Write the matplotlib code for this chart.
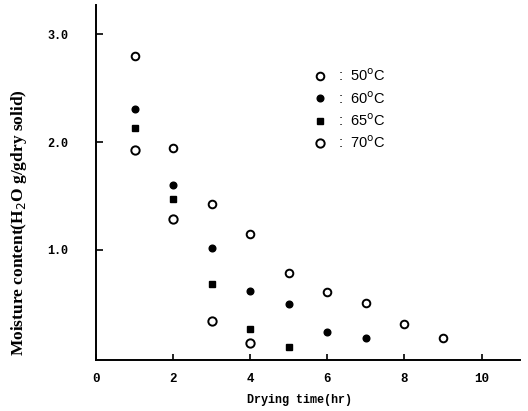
import matplotlib
matplotlib.use("Agg")
import matplotlib.pyplot as plt

# Data
t50 = [1, 2, 3, 4, 5, 6, 7, 8, 9]
m50 = [2.80, 1.94, 1.43, 1.15, 0.79, 0.61, 0.51, 0.31, 0.18]
t60 = [1, 2, 3, 4, 5, 6, 7]
m60 = [2.31, 1.60, 1.02, 0.62, 0.50, 0.24, 0.18]
t65 = [1, 2, 3, 4, 5]
m65 = [2.13, 1.47, 0.68, 0.27, 0.10]
t70 = [1, 2, 3, 4]
m70 = [1.93, 1.29, 0.34, 0.14]

series_labels = [":  50$^{\\rm o}$C", ":  60$^{\\rm o}$C", ":  65$^{\\rm o}$C", ":  70$^{\\rm o}$C"]
xticks = [0, 2, 4, 6, 8, 10]
yticks = [1.0, 2.0, 3.0]
ytick_labels = ["1.0", "2.0", "3.0"]

mono = "Liberation Mono"

fig = plt.figure(figsize=(5.28, 4.11), dpi=100)
ax = fig.add_axes([0.182, 0.124, 0.803, 0.864])

h1, = ax.plot(t50, m50, linestyle="none", marker="o", ms=5.5, mfc="white", mec="black", mew=1.4)
h2, = ax.plot(t60, m60, linestyle="none", marker="o", ms=4.8, mfc="black", mec="black")
h3, = ax.plot(t65, m65, linestyle="none", marker="s", ms=4.5, mfc="black", mec="black")
h4, = ax.plot(t70, m70, linestyle="none", marker="o", ms=6, mfc="white", mec="black", mew=1.4)

ax.set_xlim(0, 11.0)
ax.set_ylim(-0.02, 3.27)

for s in ["top", "right"]:
    ax.spines[s].set_visible(False)
for s in ["left", "bottom"]:
    ax.spines[s].set_linewidth(1.4)

ax.set_xticks(xticks)
ax.set_xticklabels([str(v) for v in xticks], fontfamily=mono, fontweight="bold", fontsize=9)
ax.set_yticks(yticks)
ax.set_yticklabels(ytick_labels, fontfamily=mono, fontweight="bold", fontsize=8.5)
ax.tick_params(axis="x", direction="in", length=4, width=1.2, pad=9)
ax.tick_params(axis="y", direction="in", length=5, width=1.2, pad=20)

ax.set_xlabel("Drying time(hr)", fontfamily=mono, fontweight="bold", fontsize=8.5)
ax.xaxis.set_label_coords(0.48, -0.095)
ax.set_ylabel("Moisture content(H$_2$O g/gdry solid)", fontfamily="Liberation Serif",
              fontweight="bold", fontsize=12.5)
ax.yaxis.set_label_coords(-0.158, 0.386)

leg = ax.legend([h1, h2, h3, h4], series_labels, frameon=False, loc="upper left",
                bbox_to_anchor=(0.48, 0.86), prop={"family": "Liberation Sans", "size": 10.5},
                handlelength=1.0, handletextpad=0.7, labelspacing=0.38)

fig.savefig("out.png", dpi=100)
